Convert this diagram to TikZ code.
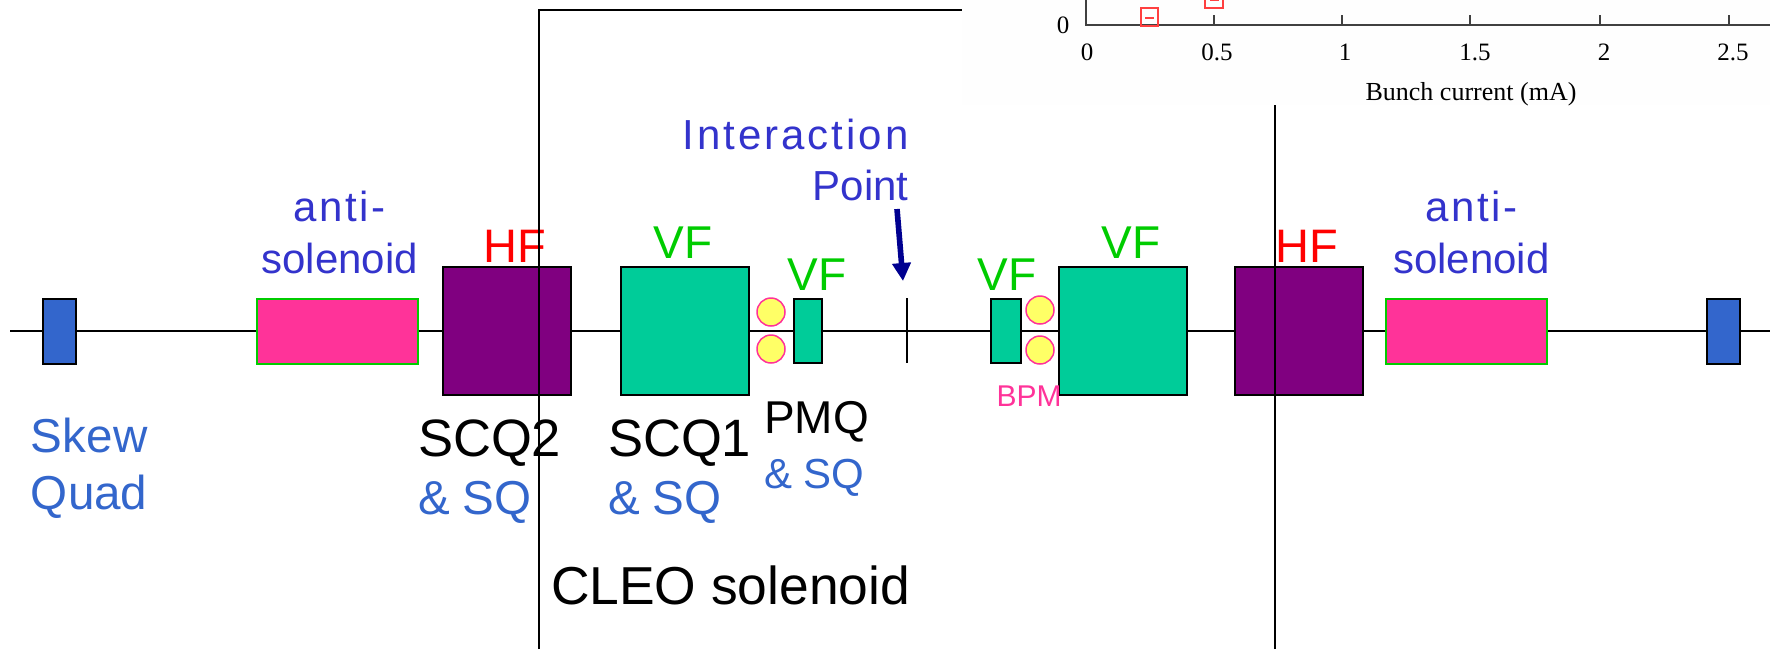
\documentclass[tikz,border=0pt]{standalone}
\usepackage{fontspec}
\usepackage{tikz}
\usetikzlibrary{positioning,arrows.meta}
\setmainfont{Liberation Sans}
\newfontfamily\plotfont{Liberation Serif}

\definecolor{quadteal}{HTML}{00CC99}
\definecolor{quadpurple}{HTML}{800080}
\definecolor{skewblue}{HTML}{3366CC}
\definecolor{bpmpink}{HTML}{FF3399}
\definecolor{bpmyellow}{HTML}{FFFF66}
\definecolor{vfgreen}{HTML}{00CC00}
\definecolor{ipblue}{HTML}{3333CC}
\definecolor{arrownavy}{HTML}{000090}
\definecolor{plotred}{HTML}{FF4040}
\definecolor{plotback}{HTML}{FEFEFE}

\tikzset{
  magnet/.style={draw=black,line width=1pt,inner sep=0pt,outer sep=0pt},
  skewbox/.style={magnet,fill=skewblue,minimum width=16.25pt,minimum height=32.5pt},
  solbox/.style={magnet,draw=vfgreen,fill=bpmpink,minimum width=80.5pt,minimum height=32.5pt},
  hfbox/.style={magnet,fill=quadpurple,minimum width=64pt,minimum height=64pt},
  vfbox/.style={magnet,fill=quadteal,minimum width=64pt,minimum height=64pt},
  pmqbox/.style={magnet,fill=quadteal,minimum height=32pt},
  bpm/.style={circle,draw=bpmpink,fill=bpmyellow,line width=0.75pt,inner sep=0pt,minimum size=14pt},
  lbl/.style={inner sep=0pt,outer sep=0pt,text depth=0pt},
  hflabel/.style={lbl,text=red,font=\fontsize{23.5}{28}\selectfont},
  vflabel/.style={lbl,text=vfgreen,font=\fontsize{23}{28}\selectfont},
  quadname/.style={lbl,text=black,font=\fontsize{26.3}{30}\selectfont},
  sqlabel/.style={lbl,text=skewblue,font=\fontsize{23.8}{28}\selectfont},
  iplabel/.style={lbl,text=ipblue,font=\fontsize{21}{25}\selectfont},
  tick label/.style={font=\plotfont\fontsize{12.5}{15}\selectfont,inner sep=0pt}
}

\begin{document}
\begin{tikzpicture}[x=0.5pt,y=-0.5pt]
  \clip (0,0) rectangle (1770,649);

  % Beam line
  \coordinate (beamL) at (10,331);
  \coordinate (beamR) at (1770,331);
  \draw[line width=1pt] (beamL) -- (beamR);

  % Define magnets
  \node[skewbox] (skewL) at (59.25,331) {};
  \node[solbox, right=90.75pt of skewL] (antiL) {};
  \node[hfbox, right=12.5pt of antiL] (hfL) {};
  \node[vfbox, right=25pt of hfL] (vfL) {};
  \node[pmqbox, minimum width=14pt, right=22.5pt of vfL] (pmqL) {};
  \node[pmqbox, minimum width=15pt, right=84.5pt of pmqL] (pmqR) {};
  \node[vfbox, right=19pt of pmqR] (vfR) {};
  \node[hfbox, right=24pt of vfR] (hfR) {};
  \node[solbox, right=11.5pt of hfR] (antiR) {};
  \node[skewbox, right=80pt of antiR] (skewR) {};

  \node[bpm] (bpmLa) at (771,312) {};
  \node[bpm] (bpmLb) at (771,349) {};
  \node[bpm] (bpmRa) at (1040,310) {};
  \node[bpm] (bpmRb) at (1040,350) {};

  % Interaction point
  \coordinate (ipTop) at (907,298);
  \coordinate (ipBot) at (907,363);
  \draw[line width=1pt] (ipTop) -- (ipBot);
  \node[iplabel, anchor=south east] (point) at (908.5,200) {Point};
  \node[iplabel, above=10pt of point.north east, anchor=south east] (inter) {\addfontfeature{LetterSpace=7}Interaction};
  \coordinate (ipTail) at (897,209);
  \coordinate (ipHead) at (903,281);
  \draw[-{Triangle[length=9pt,width=9pt]},arrownavy,line width=2.8pt] (ipTail) -- (ipHead);

  % Labels above
  \node[iplabel, above=12.5pt of antiL, xshift=1.1pt] (solL) {solenoid};
  \node[iplabel, above=11pt of solL] (antitxtL) {\addfontfeature{LetterSpace=6}anti-};
  \node[iplabel, above=12.5pt of antiR, xshift=2.4pt] (solR) {solenoid};
  \node[iplabel, above=11pt of solR] (antitxtR) {\addfontfeature{LetterSpace=6}anti-};
  \node[hflabel, above=2.5pt of hfL, xshift=3.75pt] (hftxtL) {HF};
  \node[hflabel, above=2.5pt of hfR, xshift=4pt] (hftxtR) {HF};
  \node[vflabel, above=4.5pt of vfL, xshift=-1pt] (vftxtL) {VF};
  \node[vflabel, above=4.5pt of vfR, xshift=4pt] (vftxtR) {VF};
  \node[vflabel, above=4.5pt of pmqL, xshift=4.5pt] (vfsmL) {VF};
  \node[vflabel, above=4.5pt of pmqR, xshift=0.5pt] (vfsmR) {VF};

  % Labels below
  \node[sqlabel, below=27pt of skewL.south west, xshift=-6pt, anchor=north west] (skewtxt) {Skew};
  \node[sqlabel, below=11.5pt of skewtxt.south west, anchor=north west] (quadtxt) {Quad};
  \node[quadname, below=12.5pt of hfL.south west, xshift=-12.5pt, anchor=north west] (scqtwo) {SCQ2};
  \node[sqlabel, below=12.5pt of scqtwo.south west, anchor=north west] (sqtwo) {\& SQ};
  \node[quadname, below=12.5pt of vfL.south west, xshift=-6.5pt, anchor=north west] (scqone) {SCQ1};
  \node[sqlabel, below=12.5pt of scqone.south west, anchor=north west] (sqone) {\& SQ};
  \node[vflabel, text=black, below=19pt of pmqL.south west, xshift=-15pt, anchor=north west] (pmqtxt) {PMQ};
  \node[sqlabel, font=\fontsize{21}{25}\selectfont, below=13pt of pmqtxt.south west, anchor=north west] (sqpmq) {\& SQ};
  \node[lbl, text=bpmpink, font=\fontsize{15}{18}\selectfont, below=11.5pt of pmqR.south west, xshift=2.8pt, anchor=north west] (bpmtxt) {BPM};
  \node[quadname, font=\fontsize{26.7}{30}\selectfont, anchor=south west] (cleo) at (551,604) {CLEO solenoid};

  % CLEO solenoid edges
  \coordinate (solBL) at (539,649);
  \coordinate (solTL) at (539,10);
  \coordinate (solTR) at (962,10);
  \coordinate (solBR) at (1275,649);
  \coordinate (solMR) at (1275,105);
  \draw[line width=1pt] (solBL) -- (solTL) -- (solTR);
  \draw[line width=1pt] (solBR) -- (solMR);

  % Plot corner
  \fill[plotback] (962,0) rectangle (1770,105);
  \draw[line width=0.8pt,black!75] (1086,0) -- (1086,25) -- (1770,25);
  \foreach \xval in {1214,1342,1470,1600,1729}
    \draw[line width=0.6pt,black!75] (\xval,25) -- (\xval,15);
  \node[tick label] (yzero) at (1063,25) {0};
  \node[tick label] (xzero) at (1087,52) {0};
  \node[tick label] (xa) at (1217,52) {0.5};
  \node[tick label] (xb) at (1345,52) {1};
  \node[tick label] (xc) at (1475,52) {1.5};
  \node[tick label] (xd) at (1604,52) {2};
  \node[tick label] (xe) at (1733,52) {2.5};
  \node[tick label, font=\plotfont\fontsize{13}{16}\selectfont] (xtitle) at (1471,94) {Bunch current (mA)};
  \draw[plotred,line width=0.8pt] (1141,8) rectangle (1158,26);
  \draw[plotred,line width=0.8pt] (1145,18) -- (1154,18);
  \draw[plotred,line width=0.8pt] (1205,-10) rectangle (1223,8);
  \draw[plotred,line width=0.8pt] (1210,0) -- (1219,0);

\end{tikzpicture}
\end{document}
